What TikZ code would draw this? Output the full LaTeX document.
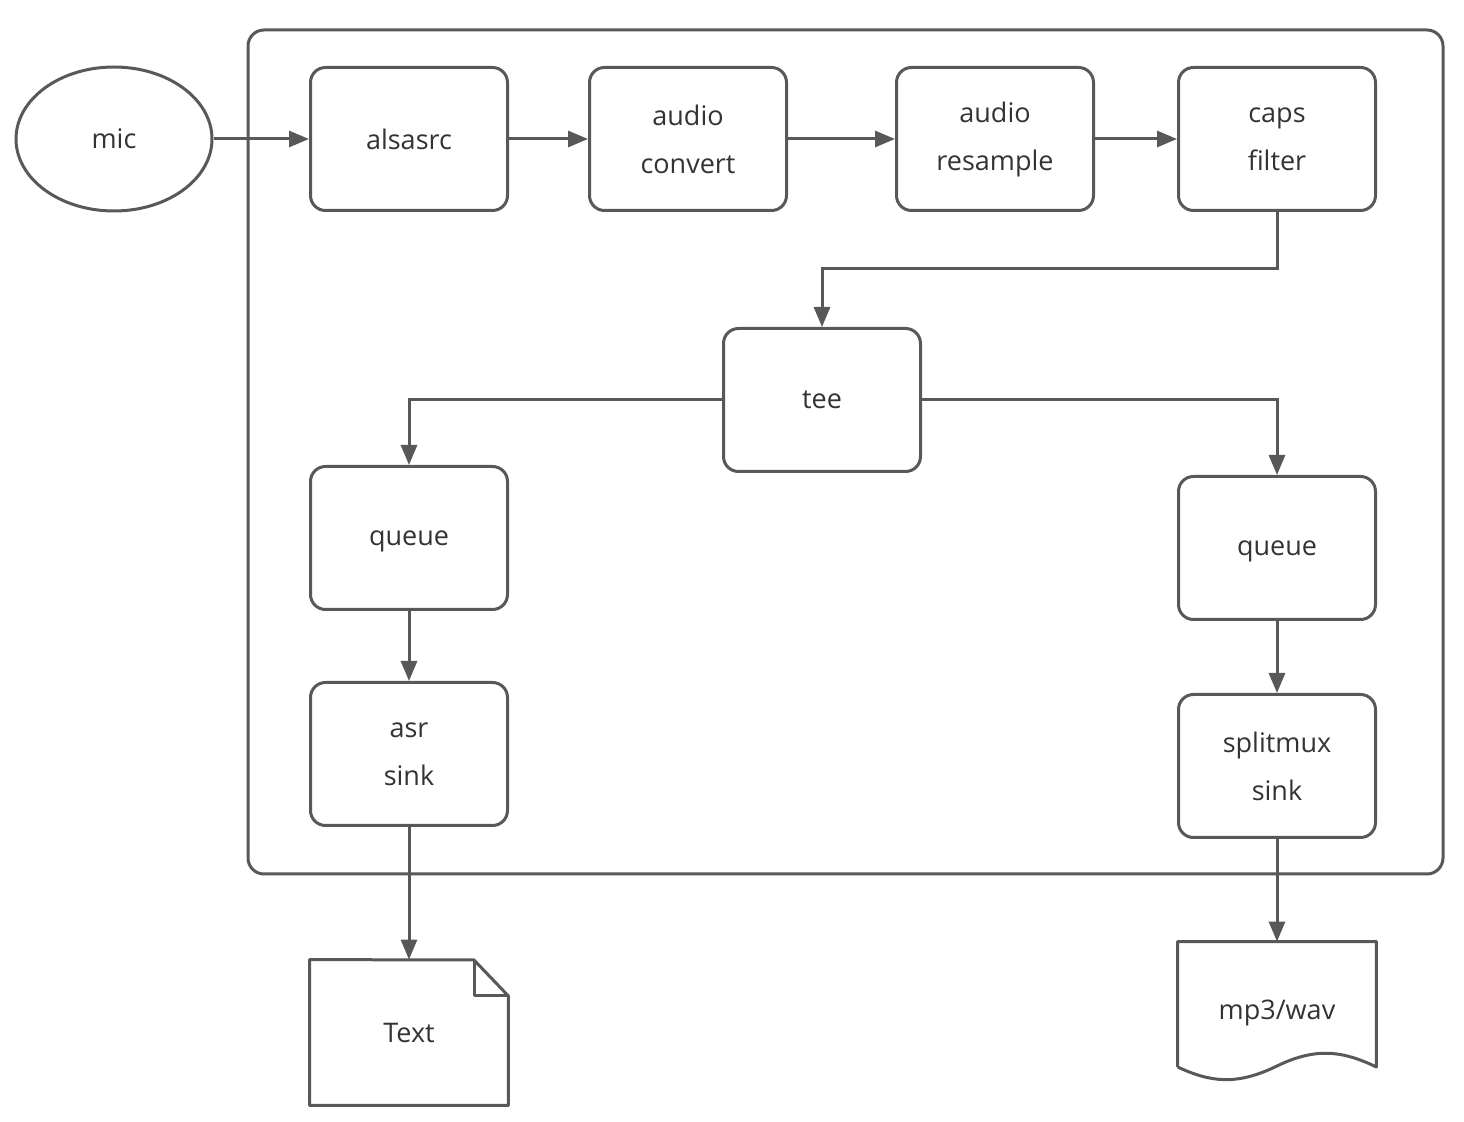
\documentclass[tikz,border=0pt]{standalone}
\usepackage{fontspec}
\setmainfont{Open Sans}
\usetikzlibrary{arrows.meta,shapes.geometric}
\definecolor{ln}{HTML}{585858}
\definecolor{tx}{HTML}{333333}
\begin{document}
\begin{tikzpicture}[x=0.5pt,y=-0.5pt,
  every node/.style={text=tx,font=\fontsize{13.5}{24}\selectfont,align=center},
  blk/.style={draw=ln,line width=1.5pt,rounded corners=7.5pt,minimum width=98.5pt,minimum height=71.5pt,inner sep=0pt},
  xh/.style={text height=7.2pt,text depth=-1pt},
  conn/.style={draw=ln,line width=1.5pt,-{Triangle[length=10pt,width=8pt]}},
  frame/.style={draw=ln,line width=1.5pt,rounded corners=8pt},
  outline/.style={draw=ln,line width=1.5pt,line join=round},
  plain/.style={inner sep=0pt}]
\useasboundingbox (0,0) rectangle (1464,1122);
\draw[frame] (248,30) rectangle (1443,874);
\node[draw=ln,line width=1.5pt,ellipse,minimum width=98pt,minimum height=72pt,inner sep=0pt] (mic) at (114,139) {mic};
\node[blk] (alsa) at (409,139) {alsasrc};
\node[blk] (conv) at (688,139) {audio\\convert};
\node[blk] (resa) at (995,139) {audio\\resample};
\node[blk] (caps) at (1277,139) {caps\\filter};
\node[blk] (tee) at (822,400) {tee};
\node[blk,xh] (q1) at (409,538) {queue};
\node[blk] (asr) at (409,754) {asr\\sink};
\node[blk,xh] (q2) at (1277,548) {queue};
\node[blk] (split) at (1277,766) {splitmux\\sink};
\node[plain,minimum width=99pt,minimum height=72.5pt] (txt) at (409,1032.5) {Text};
\node[plain,minimum width=99pt,minimum height=71pt] (mp3) at (1277,1013) {mp3/wav};
% document shape
\draw[outline] (txt.north west) -- (474,960) -- (txt.north east |- 0,996) -- (txt.south east) -- (txt.south west) -- cycle;
\draw[outline] (474,960) -- (474,996) -- (508,996);
% wave shape
\draw[outline] (mp3.west |- 0,1067) -- (mp3.north west) -- (mp3.north east) -- (mp3.east |- 0,1067)
  .. controls (1345,1052) and (1318,1046) .. (1277,1066) .. controls (1236,1086) and (1210,1082) .. (mp3.west |- 0,1067);
% connectors
\draw[conn] (mic) -- (alsa);
\draw[conn] (alsa) -- (conv);
\draw[conn] (conv) -- (resa);
\draw[conn] (resa) -- (caps);
\draw[conn] (caps.south) -- (1277,269) -| (tee.north);
\draw[conn] (tee.west) -| (q1.north);
\draw[conn] (tee.east) -| (q2.north);
\draw[conn] (q1) -- (asr);
\draw[conn] (q2) -- (split);
\draw[conn] (asr) -- (txt.north);
\draw[conn] (split) -- (mp3.north);
\end{tikzpicture}
\end{document}
